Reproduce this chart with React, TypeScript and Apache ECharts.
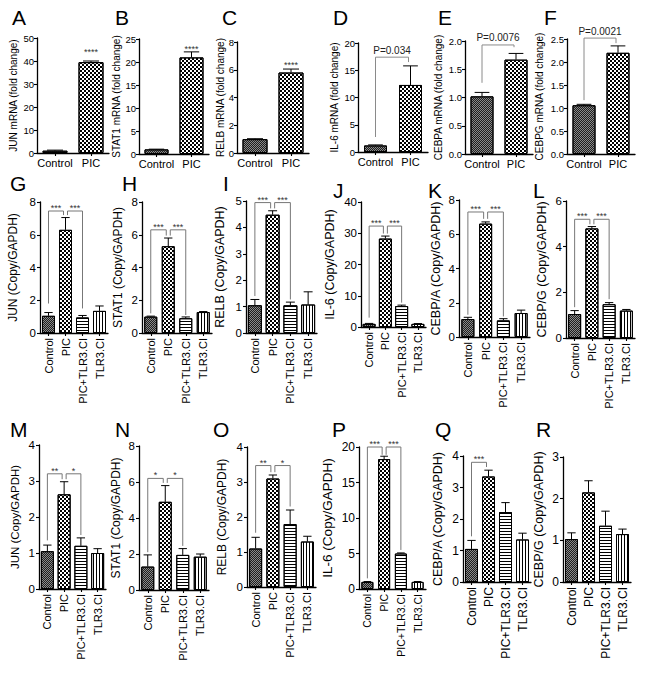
import React, { useEffect, useRef } from "react";
import * as echarts from "echarts";

const FONT = '"Liberation Sans", Arial, Helvetica, sans-serif';

// categories
const cats2 = ["Control", "PIC"];
const cats4 = ["Control", "PIC", "PIC+TLR3.CI", "TLR3.CI"];

// values and errors (SEM)
const valsA = [1.0, 39.5]; const errsA = [0.25, 0.5];
const valsB = [1.0, 21.0]; const errsB = [0.05, 1.2];
const valsC = [1.0, 5.8]; const errsC = [0.03, 0.25];
const valsD = [1.2, 12.3]; const errsD = [0.1, 3.5];
const valsE = [1.02, 1.67]; const errsE = [0.07, 0.11];
const valsF = [1.06, 2.2]; const errsF = [0.02, 0.15];
const valsG = [1.05, 6.3, 0.95, 1.35]; const errsG = [0.2, 0.75, 0.12, 0.3];
const valsH = [1.0, 5.3, 0.9, 1.28]; const errsH = [0.03, 0.5, 0.08, 0.03];
const valsI = [1.05, 4.48, 1.05, 1.08]; const errsI = [0.22, 0.15, 0.12, 0.48];
const valsJ = [1.0, 28.3, 6.7, 1.0]; const errsJ = [0.15, 0.8, 0.3, 0.1];
const valsK = [1.05, 6.62, 0.97, 1.4]; const errsK = [0.1, 0.1, 0.1, 0.17];
const valsL = [1.05, 4.8, 1.48, 1.2]; const errsL = [0.15, 0.08, 0.07, 0.05];
const valsM = [1.05, 2.63, 1.2, 1.0]; const errsM = [0.17, 0.35, 0.22, 0.12];
const valsN = [1.3, 4.9, 1.95, 1.85]; const errsN = [0.65, 0.9, 0.35, 0.15];
const valsO = [1.1, 3.1, 1.8, 1.3]; const errsO = [0.32, 0.1, 0.4, 0.15];
const valsP = [1.0, 18.3, 5.0, 1.0]; const errsP = [0.05, 0.4, 0.08, 0.05];
const valsQ = [1.05, 3.35, 2.22, 1.35]; const errsQ = [0.27, 0.2, 0.3, 0.2];
const valsR = [1.03, 2.15, 1.35, 1.15]; const errsR = [0.15, 0.28, 0.35, 0.12];

// significance annotations: [fromCat, toCat, bracketY, leftLegEndY, rightLegEndY, text]
const sigA = [[1, 1, 44.8, 44.8, 44.8, "****"]];
const sigB = [[1, 1, 23.3, 23.3, 23.3, "****"]];
const sigC = [[1, 1, 6.47, 6.47, 6.47, "****"]];
const sigD = [[0, 1, 17.4, 2.75, 16.5, "P=0.034"]];
const sigE = [[0, 1, 1.93, 1.26, 1.89, "P=0.0076"]];
const sigF = [[0, 1, 2.52, 1.17, 2.41, "P=0.0021"]];
const sigG = [[0, 1, 7.45, 1.8, 7.2, "***"], [1, 2, 7.45, 7.2, 1.5, "***"]];
const sigH = [[0, 1, 6.3, 1.2, 5.95, "***"], [1, 2, 6.3, 5.95, 1.1, "***"]];
const sigI = [[0, 1, 4.94, 1.4, 4.72, "***"], [1, 2, 4.94, 4.72, 1.27, "***"]];
const sigJ = [[0, 1, 32.3, 3, 29.9, "***"], [1, 2, 32.3, 29.9, 7.8, "***"]];
const sigK = [[0, 1, 7.3, 1.3, 6.9, "***"], [1, 2, 7.3, 6.9, 1.2, "***"]];
const sigL = [[0, 1, 5.2, 1.35, 4.98, "***"], [1, 2, 5.2, 4.98, 1.7, "***"]];
const sigM = [[0, 1, 3.2, 1.35, 3.05, "**"], [1, 2, 3.2, 3.05, 1.5, "*"]];
const sigN = [[0, 1, 6.2, 2.1, 5.95, "*"], [1, 2, 6.2, 5.95, 2.45, "*"]];
const sigO = [[0, 1, 3.47, 1.55, 3.28, "**"], [1, 2, 3.47, 3.28, 2.3, "*"]];
const sigP = [[0, 1, 20.0, 1.5, 18.9, "***"], [1, 2, 20.0, 18.9, 5.5, "***"]];
const sigQ = [[0, 1, 3.8, 1.45, 3.65, "***"]];
const sigR: any[] = [];

const titles1 = ["JUN mRNA (fold change)", "STAT1 mRNA (fold change)", "RELB mRNA (fold change)", "IL-6 mRNA (fold change)", "CEBPA mRNA (fold change)", "CEBPG mRNA (fold change)"];
const titles2 = ["JUN (Copy/GAPDH)", "STAT1 (Copy/GAPDH)", "RELB (Copy/GAPDH)", "IL-6 (Copy/GAPDH)", "CEBP/A (Copy/GAPDH)", "CEBP/G (Copy/GAPDH)"];

type Panel = {
  id: string; lx: number; ly: number;
  cats: string[]; vals: number[]; errs: number[]; sig: any[];
  left: number; top: number; width: number; height: number;
  max: number; interval: number; dec: number;
  title: string; gap: number; tf: number; kf: number; cf: number; bw: number; rot: number;
};

const panels: Panel[] = [
  { id: "A", lx: 12, ly: 9, cats: cats2, vals: valsA, errs: errsA, sig: sigA, left: 37, top: 38, width: 72, height: 115, max: 50, interval: 10, dec: 0, title: titles1[0], gap: 19, tf: 10, kf: 9.5, cf: 11, bw: 25, rot: 0 },
  { id: "B", lx: 115, ly: 9, cats: cats2, vals: valsB, errs: errsB, sig: sigB, left: 139, top: 39, width: 70, height: 115, max: 25, interval: 5, dec: 0, title: titles1[1], gap: 18, tf: 10, kf: 9.5, cf: 11, bw: 24, rot: 0 },
  { id: "C", lx: 222, ly: 9, cats: cats2, vals: valsC, errs: errsC, sig: sigC, left: 237, top: 42, width: 72, height: 111, max: 8, interval: 2, dec: 0, title: titles1[2], gap: 12, tf: 10, kf: 9.5, cf: 11, bw: 25, rot: 0 },
  { id: "D", lx: 333, ly: 9, cats: cats2, vals: valsD, errs: errsD, sig: sigD, left: 358, top: 43, width: 70, height: 109, max: 20, interval: 5, dec: 0, title: titles1[3], gap: 19, tf: 10, kf: 9.5, cf: 11, bw: 23, rot: 0 },
  { id: "E", lx: 438, ly: 9, cats: cats2, vals: valsE, errs: errsE, sig: sigE, left: 465, top: 41, width: 68, height: 113, max: 2, interval: 0.5, dec: 1, title: titles1[4], gap: 22, tf: 10, kf: 9.5, cf: 11, bw: 23, rot: 0 },
  { id: "F", lx: 544, ly: 9, cats: cats2, vals: valsF, errs: errsF, sig: sigF, left: 567, top: 39, width: 68, height: 115, max: 2.5, interval: 0.5, dec: 1, title: titles1[5], gap: 23, tf: 10, kf: 9.5, cf: 11, bw: 23, rot: 0 },

  { id: "G", lx: 10, ly: 175, cats: cats4, vals: valsG, errs: errsG, sig: sigG, left: 40, top: 202, width: 68, height: 131, max: 8, interval: 2, dec: 0, title: titles2[0], gap: 21, tf: 12, kf: 11.5, cf: 11, bw: 13, rot: 90 },
  { id: "H", lx: 122, ly: 175, cats: cats4, vals: valsH, errs: errsH, sig: sigH, left: 142, top: 202, width: 70, height: 131, max: 8, interval: 2, dec: 0, title: titles2[1], gap: 18.5, tf: 12, kf: 11.5, cf: 11, bw: 13, rot: 90 },
  { id: "I", lx: 223, ly: 175, cats: cats4, vals: valsI, errs: errsI, sig: sigI, left: 246, top: 201, width: 71, height: 132, max: 5, interval: 1, dec: 0, title: titles2[2], gap: 20, tf: 12.5, kf: 11.5, cf: 11, bw: 14, rot: 90 },
  { id: "J", lx: 333, ly: 182, cats: cats4, vals: valsJ, errs: errsJ, sig: sigJ, left: 361, top: 202, width: 65, height: 125, max: 40, interval: 10, dec: 0, title: titles2[3], gap: 25, tf: 12.5, kf: 11.5, cf: 11, bw: 13, rot: 90 },
  { id: "K", lx: 428, ly: 182, cats: cats4, vals: valsK, errs: errsK, sig: sigK, left: 459, top: 200, width: 71, height: 137, max: 8, interval: 2, dec: 0, title: titles2[4], gap: 17, tf: 12.5, kf: 11.5, cf: 11, bw: 13, rot: 90 },
  { id: "L", lx: 533, ly: 182, cats: cats4, vals: valsL, errs: errsL, sig: sigL, left: 566, top: 201, width: 69, height: 137, max: 6, interval: 2, dec: 0, title: titles2[5], gap: 18, tf: 12.5, kf: 11.5, cf: 11, bw: 13, rot: 90 },

  { id: "M", lx: 10, ly: 421, cats: cats4, vals: valsM, errs: errsM, sig: sigM, left: 39, top: 445, width: 67, height: 144, max: 4, interval: 1, dec: 0, title: titles2[0], gap: 18, tf: 11.5, kf: 11.5, cf: 11, bw: 13, rot: 90 },
  { id: "N", lx: 115, ly: 421, cats: cats4, vals: valsN, errs: errsN, sig: sigN, left: 139, top: 446, width: 70, height: 144, max: 8, interval: 2, dec: 0, title: titles2[1], gap: 17, tf: 12, kf: 11.5, cf: 11, bw: 13, rot: 90 },
  { id: "O", lx: 213, ly: 421, cats: cats4, vals: valsO, errs: errsO, sig: sigO, left: 247, top: 447, width: 69, height: 140, max: 4, interval: 1, dec: 0, title: titles2[2], gap: 19, tf: 12, kf: 11.5, cf: 11, bw: 13, rot: 90 },
  { id: "P", lx: 332, ly: 421, cats: cats4, vals: valsP, errs: errsP, sig: sigP, left: 359, top: 447, width: 67, height: 142, max: 20, interval: 5, dec: 0, title: titles2[3], gap: 25, tf: 13.5, kf: 12, cf: 10.5, bw: 12, rot: 90 },
  { id: "Q", lx: 435, ly: 421, cats: cats4, vals: valsQ, errs: errsQ, sig: sigQ, left: 463, top: 456, width: 68, height: 126, max: 4, interval: 1, dec: 0, title: titles2[4], gap: 19, tf: 12.5, kf: 12, cf: 12, bw: 13, rot: 90 },
  { id: "R", lx: 536, ly: 421, cats: cats4, vals: valsR, errs: errsR, sig: sigR, left: 563, top: 457, width: 68, height: 125, max: 3, interval: 1, dec: 0, title: titles2[5], gap: 18, tf: 12.5, kf: 12, cf: 12, bw: 13, rot: 90 },
];

const DECALS: any[] = [
  { symbol: "rect", symbolSize: 1, color: "#1e1e1e", dashArrayX: [[1, 1], [0, 1, 1, 0]], dashArrayY: [1, 0] },
  { symbol: "rect", symbolSize: 1, color: "#000", dashArrayX: [[2, 2], [0, 2, 2, 0]], dashArrayY: [2, 0] },
  { symbol: "rect", symbolSize: 1, color: "#000", dashArrayX: [1, 0], dashArrayY: [1, 2] },
  { symbol: "rect", symbolSize: 1, color: "#000", dashArrayX: [1, 2], dashArrayY: [1, 0] },
];
const BASE = ["#8a8a8a", "#ffffff", "#ffffff", "#ffffff"];

function buildOption() {
  const grid: any[] = [];
  const xAxis: any[] = [];
  const yAxis: any[] = [];
  const series: any[] = [];
  const graphic: any[] = [];

  panels.forEach((p, i) => {
    grid.push({ left: p.left, top: p.top, width: p.width, height: p.height, containLabel: false });
    xAxis.push({
      type: "category", gridIndex: i, data: p.cats,
      axisLine: { show: true, lineStyle: { color: "#000", width: 1.3 } },
      axisTick: { show: true, alignWithLabel: true, length: 3, lineStyle: { color: "#000", width: 1.1 } },
      axisLabel: { interval: 0, rotate: p.rot, fontSize: p.cf, color: "#000", fontFamily: FONT, margin: p.rot ? 5 : 4 },
    });
    yAxis.push({
      type: "value", gridIndex: i, min: 0, max: p.max, interval: p.interval,
      name: p.title, nameLocation: "middle", nameGap: p.gap, nameRotate: 90, nameMoveOverlap: false,
      nameTextStyle: { fontSize: p.tf, color: "#000", fontFamily: FONT },
      axisLine: { show: true, lineStyle: { color: "#000", width: 1.3 } },
      axisTick: { show: true, length: 3, lineStyle: { color: "#000", width: 1.1 } },
      axisLabel: { fontSize: p.kf, color: "#000", fontFamily: FONT, margin: p.rot ? 4 : 3, formatter: (v: number) => v.toFixed(p.dec) },
      splitLine: { show: false },
    });
    series.push({
      type: "bar", xAxisIndex: i, yAxisIndex: i, barWidth: p.bw, silent: true, z: 2,
      data: p.vals.map((v, k) => ({
        value: v,
        itemStyle: { color: BASE[k], borderColor: "#000", borderWidth: 1, decal: DECALS[k] },
      })),
    });
    const capHalf = p.bw * 0.32;
    series.push({
      type: "custom", xAxisIndex: i, yAxisIndex: i, silent: true, z: 3,
      encode: { x: 0, y: 1 },
      data: p.vals.map((v, k) => [k, v, p.errs[k]]),
      renderItem: (params: any, api: any) => {
        const k = api.value(0), v = api.value(1), e = api.value(2);
        if (!(e > 0)) return { type: "group", children: [] };
        const a = api.coord([k, v]);
        const b = api.coord([k, v + e]);
        return {
          type: "group",
          children: [
            { type: "line", shape: { x1: a[0], y1: a[1], x2: b[0], y2: b[1] }, style: { stroke: "#000", lineWidth: 1 } },
            { type: "line", shape: { x1: b[0] - capHalf, y1: b[1], x2: b[0] + capHalf, y2: b[1] }, style: { stroke: "#000", lineWidth: 1 } },
          ],
        };
      },
    });
    if (p.sig.length) {
      const sig = p.sig;
      series.push({
        type: "custom", xAxisIndex: i, yAxisIndex: i, silent: true, z: 4,
        encode: { x: 0, y: 1 },
        data: sig.map((s: any[]) => [s[0], s[2], s[1], s[3], s[4]]),
        renderItem: (params: any, api: any) => {
          const s = sig[params.dataIndex];
          const f = s[0], t = s[1], y = s[2], l = s[3], r = s[4], txt = s[5];
          const pl = api.coord([f, y]);
          const pr = api.coord([t, y]);
          const isP = String(txt).charAt(0) === "P";
          if (f === t) {
            return {
              type: "text", x: pl[0], y: pl[1] + 2,
              style: { text: txt, fontSize: 9, fontFamily: FONT, fill: "#333", align: "center", verticalAlign: "middle" },
            };
          }
          const xL = pl[0] + (f === 1 ? 2 : 0);
          const xR = pr[0] - (t === 1 ? 2 : 0);
          const ly = api.coord([f, l])[1];
          const ry = api.coord([t, r])[1];
          return {
            type: "group",
            children: [
              { type: "polyline", shape: { points: [[xL, ly], [xL, pl[1]], [xR, pl[1]], [xR, ry]] }, style: { stroke: isP ? "#8a8a8a" : "#777", lineWidth: 1, fill: "none" } },
              isP
                ? { type: "text", x: (xL + xR) / 2, y: pl[1] - 2, style: { text: txt, fontSize: 10, fontFamily: FONT, fill: "#222", align: "center", verticalAlign: "bottom" } }
                : { type: "text", x: (xL + xR) / 2, y: pl[1] - 3, style: { text: txt, fontSize: 9, fontFamily: FONT, fill: "#333", align: "center", verticalAlign: "middle" } },
            ],
          };
        },
      });
    }
    graphic.push({
      type: "text", x: p.lx, y: p.ly, silent: true,
      style: { text: p.id, fontSize: 21, lineHeight: 16, fontFamily: FONT, fill: "#000", align: "left", verticalAlign: "top" },
    });
  });

  return { animation: false, backgroundColor: "#fff", grid, xAxis, yAxis, series, graphic };
}

export default function App() {
  const ref = useRef<HTMLDivElement>(null);
  useEffect(() => {
    document.body.style.margin = "0";
    if (!ref.current) return;
    const chart = echarts.init(ref.current, undefined, { renderer: "svg" });
    chart.setOption(buildOption() as any);
    return () => chart.dispose();
  }, []);
  return <div ref={ref} style={{ width: 646, height: 678, background: "#fff" }} />;
}
